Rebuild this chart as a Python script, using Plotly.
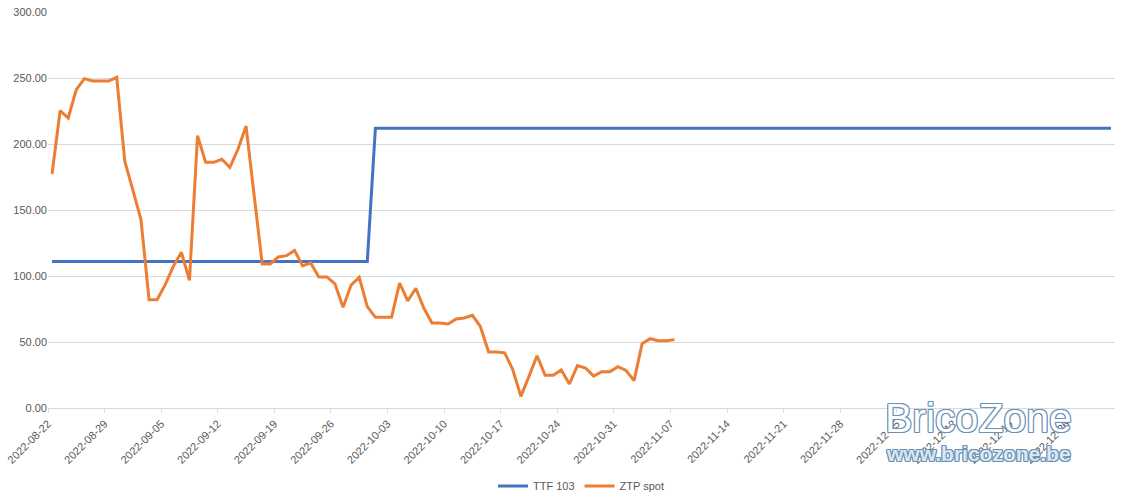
import pandas as pd
import plotly.graph_objects as go

# ---- data ----
ztp_start = "2022-08-22"
ztp_values = [
    177.3, 225.3, 219.7, 241.2, 249.5, 247.7, 247.7, 247.7, 250.5, 186.9,
    165.0, 142.7, 82.1, 82.1, 93.4, 107.3, 117.9, 96.7, 206.3, 186.1,
    186.1, 188.4, 182.3, 196.0, 213.6, 160.0, 109.1, 109.1, 114.4, 115.4,
    119.4, 107.6, 109.9, 99.3, 99.3, 94.0, 76.3, 93.2, 99.0, 76.8,
    68.7, 68.7, 68.7, 94.7, 81.1, 90.7, 75.5, 64.4, 64.4, 63.6,
    67.4, 68.2, 70.2, 61.6, 42.4, 42.4, 41.8, 29.0, 8.8, 24.0,
    39.6, 24.8, 24.8, 28.8, 18.2, 32.1, 30.3, 24.2, 27.5, 27.5,
    31.3, 28.5, 20.7, 48.7, 52.5, 51.0, 51.0, 51.8,
]
ttf_dates = ["2022-08-22", "2022-09-30", "2022-10-01", "2022-12-31"]
ttf_values = [111, 111, 212, 212]

tick_labels = [
    "2022-08-22", "2022-08-29", "2022-09-05", "2022-09-12", "2022-09-19",
    "2022-09-26", "2022-10-03", "2022-10-10", "2022-10-17", "2022-10-24",
    "2022-10-31", "2022-11-07", "2022-11-14", "2022-11-21", "2022-11-28",
    "2022-12-05", "2022-12-12", "2022-12-19", "2022-12-26",
]
y_ticks = [0, 50, 100, 150, 200, 250, 300]
x_first = "2022-08-22"
x_last = "2022-12-31"

ztp_dates = pd.date_range(ztp_start, periods=len(ztp_values), freq="D")
half = pd.Timedelta(hours=12)
tick_pos = [pd.Timestamp(t) - half for t in tick_labels]

ORANGE = "#ED7D31"
BLUE = "#4472C4"
GRID = "#D9D9D9"
TXT = "#595959"
FONT = "Liberation Sans, Arial, sans-serif"

fig = go.Figure()
fig.add_trace(go.Scatter(x=pd.to_datetime(ttf_dates), y=ttf_values, mode="lines",
                         name="TTF 103", line=dict(color=BLUE, width=3)))
fig.add_trace(go.Scatter(x=ztp_dates, y=ztp_values, mode="lines",
                         name="ZTP spot", line=dict(color=ORANGE, width=3)))

fig.update_layout(
    width=1124, height=498,
    margin=dict(l=48, r=9, t=12, b=90, autoexpand=False),
    paper_bgcolor="white", plot_bgcolor="white",
    font=dict(family=FONT, size=11, color=TXT),
    showlegend=True,
    legend=dict(orientation="h", x=0.5, xanchor="center", y=-0.197, yanchor="middle",
                font=dict(size=11, color=TXT), itemwidth=30, tracegroupgap=0),
    xaxis=dict(
        range=[pd.Timestamp(x_first) - half, pd.Timestamp(x_last) + half],
        tickmode="array", tickvals=tick_pos, ticktext=tick_labels,
        tickangle=-45, showgrid=False, zeroline=False, automargin=False,
        showline=True, linecolor=GRID, linewidth=1,
        ticks="outside", ticklen=4, tickcolor=GRID,
        tickfont=dict(size=11, color=TXT),
    ),
    yaxis=dict(
        range=[0, 300], tickvals=y_ticks, tickformat=".2f", automargin=False,
        showgrid=True, gridcolor=GRID, gridwidth=1, zeroline=False,
        showline=False, ticks="", tickfont=dict(size=11, color=TXT),
    ),
)

OUT = "#6A93B8"
outline = (f"1px 0 0 {OUT}, -1px 0 0 {OUT}, 0 1px 0 {OUT}, 0 -1px 0 {OUT}, "
           f"1px 1px 0 {OUT}, -1px -1px 0 {OUT}, 1px -1px 0 {OUT}, -1px 1px 0 {OUT}")
fig.add_annotation(xref="paper", yref="paper", x=0.872, y=-0.025, xanchor="center", yanchor="middle",
                   text="BricoZone", showarrow=False,
                   font=dict(family=FONT, size=41, color="white", shadow=outline))
fig.add_annotation(xref="paper", yref="paper", x=0.872, y=-0.116, xanchor="center", yanchor="middle",
                   text="<b>www.bricozone.be</b>", showarrow=False,
                   font=dict(family=FONT, size=21, color="#DCE6F0", shadow=outline))

fig.write_html("out.html")
